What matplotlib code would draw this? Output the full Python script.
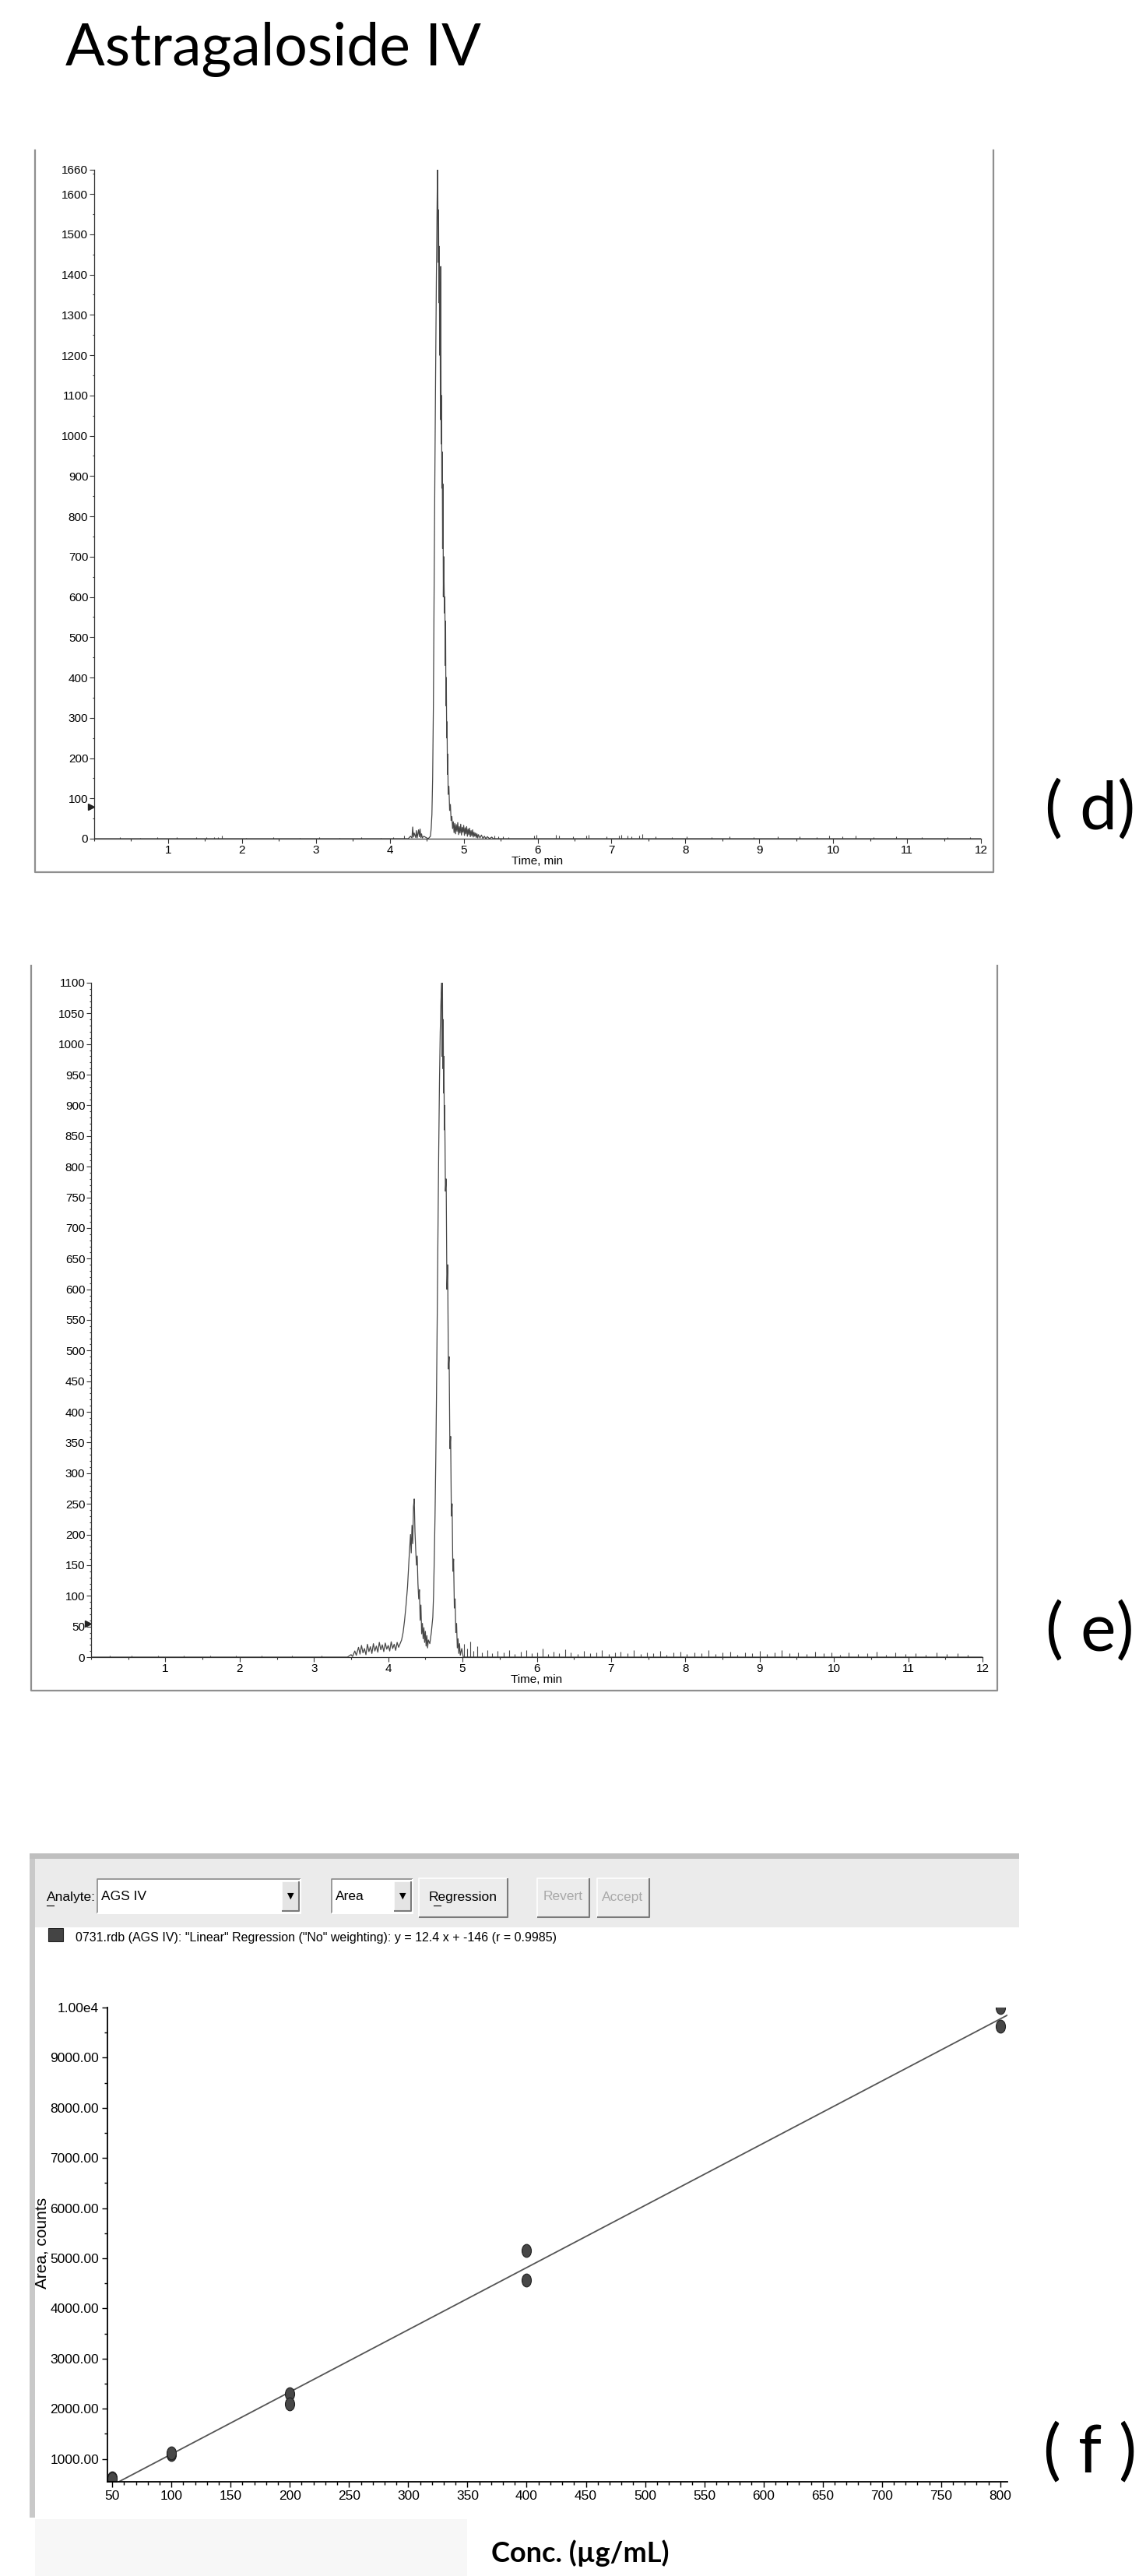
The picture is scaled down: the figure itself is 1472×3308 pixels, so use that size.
import matplotlib
matplotlib.use('Agg')
import matplotlib.pyplot as plt
from matplotlib.patches import Rectangle
from matplotlib.markers import MarkerStyle
from matplotlib.transforms import Affine2D
from matplotlib.ticker import MultipleLocator, FixedLocator, FuncFormatter

plt.rcParams['font.family'] = ['Liberation Sans', 'DejaVu Sans']

# ---- data ----
title = 'Astragaloside IV'
panel_labels = ['( d)', '( e)', '( f )']

# (d) chromatogram, standard: (time min, intensity)
d_trace = [(0.0, 0), (4.25, 0), (4.28, 6), (4.30, 2), (4.31, 29), (4.32, 4), (4.33, 14),
           (4.35, 3), (4.36, 20), (4.37, 2), (4.39, 22), (4.40, 5), (4.41, 24), (4.42, 3),
           (4.43, 12), (4.44, 2), (4.46, 6), (4.52, 0), (4.55, 6), (4.56, 25), (4.57, 60),
           (4.58, 150), (4.59, 330), (4.60, 620), (4.61, 900), (4.62, 1150), (4.63, 1380),
           (4.64, 1570), (4.645, 1660), (4.65, 1600), (4.655, 1430), (4.66, 1560),
           (4.665, 1330), (4.67, 1470), (4.675, 1200), (4.68, 1380), (4.685, 1040),
           (4.69, 1420), (4.695, 980), (4.70, 1100), (4.705, 870), (4.71, 960), (4.715, 720),
           (4.72, 880), (4.725, 600), (4.73, 700), (4.74, 560), (4.745, 600), (4.75, 430),
           (4.755, 540), (4.76, 330), (4.765, 400), (4.77, 250), (4.775, 290), (4.78, 160),
           (4.785, 210), (4.79, 110), (4.80, 130), (4.81, 70), (4.82, 85), (4.83, 45),
           (4.84, 55), (4.85, 25), (4.86, 42), (4.87, 15), (4.88, 38), (4.89, 12), (4.90, 35),
           (4.91, 18), (4.92, 40), (4.93, 10), (4.94, 30), (4.95, 14), (4.96, 36), (4.97, 9),
           (4.98, 28), (4.99, 16), (5.00, 33), (5.01, 8), (5.02, 27), (5.03, 12), (5.04, 30),
           (5.05, 6), (5.06, 24), (5.07, 10), (5.08, 26), (5.09, 5), (5.10, 20), (5.11, 7),
           (5.12, 22), (5.13, 4), (5.14, 16), (5.15, 6), (5.16, 14), (5.17, 3), (5.18, 12),
           (5.19, 2), (5.20, 10), (5.22, 2), (5.24, 9), (5.26, 1), (5.28, 6), (5.30, 0),
           (5.32, 5), (5.35, 0), (5.38, 4), (5.40, 0), (12.0, 0)]
d_spike_t = [0.35, 0.62, 0.85, 1.12, 1.38, 1.52, 1.62, 1.68, 1.73, 2.05, 2.42, 2.78, 3.05,
             3.32, 3.61, 3.88, 4.05, 4.19, 5.42, 5.47, 5.53, 5.60, 5.95, 5.98, 6.25, 6.29,
             6.48, 6.66, 6.69, 6.93, 7.10, 7.13, 7.22, 7.27, 7.38, 7.42, 7.60, 7.82, 8.02,
             8.35, 8.60, 8.92, 9.25, 9.55, 9.78, 9.95, 10.12, 10.30, 10.55, 10.85, 11.20,
             11.55, 11.85]
d_spike_h = [3, 2, 4, 3, 3, 4, 3, 4, 8, 2, 3, 2, 3, 2, 3, 2, 3, 8, 8, 6, 5, 4, 8, 10, 9, 7,
             6, 8, 9, 5, 8, 9, 7, 6, 8, 11, 5, 4, 6, 4, 5, 3, 5, 6, 4, 8, 5, 7, 4, 5, 3, 4, 3]
d_yticks = [0, 100, 200, 300, 400, 500, 600, 700, 800, 900, 1000, 1100, 1200, 1300, 1400,
            1500, 1600, 1660]
d_marker = 80

# (e) chromatogram, sample
e_trace = [(0.0, 0), (3.45, 0), (3.50, 4), (3.52, 1), (3.55, 10), (3.57, 3), (3.60, 16),
           (3.62, 5), (3.64, 19), (3.66, 7), (3.68, 14), (3.70, 4), (3.72, 21), (3.74, 9),
           (3.76, 17), (3.78, 6), (3.80, 22), (3.82, 10), (3.84, 18), (3.86, 8), (3.88, 24),
           (3.90, 12), (3.92, 20), (3.94, 9), (3.96, 23), (3.98, 13), (4.00, 19), (4.02, 10),
           (4.04, 25), (4.06, 14), (4.08, 21), (4.10, 11), (4.12, 24), (4.14, 16), (4.16, 22),
           (4.18, 28), (4.20, 40), (4.22, 60), (4.24, 85), (4.26, 115), (4.28, 160),
           (4.30, 200), (4.31, 170), (4.32, 215), (4.33, 185), (4.34, 245), (4.35, 258),
           (4.36, 205), (4.37, 175), (4.38, 150), (4.39, 165), (4.40, 120), (4.41, 95),
           (4.42, 110), (4.43, 60), (4.44, 85), (4.45, 38), (4.46, 55), (4.47, 30), (4.48, 48),
           (4.49, 24), (4.50, 42), (4.51, 18), (4.52, 35), (4.53, 15), (4.54, 28), (4.56, 22),
           (4.58, 40), (4.60, 65), (4.61, 100), (4.62, 160), (4.63, 230), (4.64, 320),
           (4.65, 430), (4.66, 560), (4.67, 700), (4.68, 830), (4.69, 940), (4.70, 1020),
           (4.71, 1070), (4.72, 1100), (4.725, 980), (4.73, 1100), (4.735, 960), (4.74, 1040),
           (4.745, 920), (4.75, 980), (4.755, 860), (4.76, 900), (4.77, 760), (4.78, 780),
           (4.79, 600), (4.80, 640), (4.81, 470), (4.82, 490), (4.83, 340), (4.84, 360),
           (4.85, 230), (4.86, 250), (4.87, 140), (4.88, 160), (4.89, 80), (4.90, 95),
           (4.91, 40), (4.92, 55), (4.93, 15), (4.94, 30), (4.95, 6), (4.96, 22), (4.97, 3),
           (4.99, 14), (5.01, 0), (12.0, 0)]
e_spike_t = [0.25, 0.55, 0.90, 1.25, 1.60, 1.95, 2.30, 2.70, 3.10, 5.02, 5.06, 5.10, 5.15,
             5.20, 5.26, 5.33, 5.40, 5.47, 5.55, 5.63, 5.70, 5.78, 5.86, 5.93, 6.00, 6.08,
             6.15, 6.23, 6.30, 6.38, 6.46, 6.55, 6.63, 6.72, 6.80, 6.88, 6.97, 7.05, 7.13,
             7.22, 7.30, 7.40, 7.48, 7.57, 7.66, 7.75, 7.84, 7.93, 8.02, 8.12, 8.22, 8.31,
             8.40, 8.50, 8.60, 8.70, 8.80, 8.90, 9.00, 9.10, 9.20, 9.30, 9.40, 9.52, 9.63,
             9.75, 9.86, 9.97, 10.08, 10.20, 10.32, 10.45, 10.57, 10.70, 10.83, 10.96, 11.10,
             11.24, 11.38, 11.52, 11.66, 11.80]
e_spike_h = [3, 2, 3, 2, 3, 2, 3, 2, 3, 22, 14, 25, 10, 18, 8, 12, 6, 10, 7, 11, 5, 9, 12, 6,
             8, 14, 5, 9, 6, 13, 7, 5, 10, 6, 8, 12, 5, 7, 9, 6, 11, 5, 8, 6, 10, 4, 7, 9, 5,
             8, 6, 11, 5, 7, 9, 4, 8, 6, 10, 5, 7, 12, 6, 8, 5, 9, 6, 7, 4, 8, 5, 6, 9, 4, 7,
             5, 6, 4, 8, 5, 6, 4]
e_yticks = list(range(0, 1101, 50))
e_marker = 55

# (f) calibration curve
f_conc = [50, 50, 100, 100, 200, 200, 400, 400, 800, 800]
f_area = [620, 600, 1090, 1110, 2290, 2090, 5150, 4560, 10000, 9620]
f_slope = 12.4
f_intercept = -146
f_legend = '0731.rdb (AGS IV): "Linear" Regression ("No" weighting): y = 12.4 x + -146 (r = 0.9985)'

# ---- figure ----
W, H = 1472, 3308
fig = plt.figure(figsize=(W / 100, H / 100), dpi=100)


def axes_px(left, top, right, bottom):
    return fig.add_axes([left / W, 1 - bottom / H, (right - left) / W, (bottom - top) / H])


deco = fig.add_axes([0, 0, 1, 1])
deco.set_xlim(0, W)
deco.set_ylim(H, 0)
deco.axis('off')

deco.text(84, 84, title, family='Lato', fontsize=54, va='baseline')

# grey frames round the two chromatograms
deco.plot([45, 45, 1276, 1276], [193, 1120, 1120, 193], color='#8f8f8f', lw=1.6)
deco.plot([40, 40, 1281, 1281], [1240, 2171, 2171, 1240], color='#8f8f8f', lw=1.6)


def chromatogram(ax, trace, spike_t, spike_h, yticks, yminor, marker_y):
    t, c = zip(*trace)
    ax.plot(t, c, color='#474747', lw=0.9)
    ax.vlines(spike_t, 0, spike_h, color='#474747', lw=0.8)
    ax.plot([-0.04], [marker_y], marker='>', ms=6, color='#222222', clip_on=False)
    ax.set_xlim(0, 12)
    ax.set_ylim(0, yticks[-1])
    ax.set_xticks(range(1, 13))
    ax.xaxis.set_minor_locator(MultipleLocator(0.5))
    ax.yaxis.set_major_locator(FixedLocator(yticks))
    ax.yaxis.set_minor_locator(MultipleLocator(yminor))
    ax.tick_params(which='major', direction='out', length=4, width=0.8, color='#333333',
                   labelsize=11, pad=1.5)
    ax.tick_params(which='minor', direction='out', length=1.8, width=0.8, color='#333333')
    for s in ['top', 'right']:
        ax.spines[s].set_visible(False)
    for s in ['left', 'bottom']:
        ax.spines[s].set_color('#333333')
        ax.spines[s].set_linewidth(0.9)
    ax.set_xlabel('Time, min', fontsize=11, labelpad=0)
    ax.patch.set_alpha(0)


axd = axes_px(121, 218, 1260, 1077)
chromatogram(axd, d_trace, d_spike_t, d_spike_h, d_yticks, 50, d_marker)
axe = axes_px(117, 1262, 1262, 2128)
chromatogram(axe, e_trace, e_spike_t, e_spike_h, e_yticks, 10, e_marker)

deco.text(1400, 1040, panel_labels[0], family='Lato', fontsize=62, ha='center', va='center')
deco.text(1400, 2095, panel_labels[1], family='Lato', fontsize=62, ha='center', va='center')
deco.text(1400, 3150, panel_labels[2], family='Lato', fontsize=62, ha='center', va='center')

# ---- (f) software window ----
deco.add_patch(Rectangle((38, 2380), 7, 853, facecolor='#c9c9c9', edgecolor='none'))
deco.add_patch(Rectangle((38, 2380), 1271, 7, facecolor='#bfbfbf', edgecolor='none'))
deco.add_patch(Rectangle((45, 2387), 1264, 88, facecolor='#ebebeb', edgecolor='none'))
deco.add_patch(Rectangle((45, 3235), 555, 73, facecolor='#f7f7f7', edgecolor='none'))


def bevel(x0, y0, x1, y1, face, raised=True):
    deco.add_patch(Rectangle((x0, y0), x1 - x0, y1 - y0, facecolor=face, edgecolor='none'))
    light, dark = ('#ffffff', '#7a7a7a') if raised else ('#8a8a8a', '#ffffff')
    deco.plot([x0, x0, x1], [y1, y0, y0], color=light, lw=1.2, solid_capstyle='butt')
    deco.plot([x0, x1, x1], [y1, y1, y0], color=dark, lw=1.5, solid_capstyle='butt')


deco.text(60, 2437, 'Analyte:', fontsize=12.5, va='center')
deco.plot([60, 69], [2447, 2447], color='black', lw=0.8)
bevel(125, 2413, 386, 2457, 'white', raised=False)
deco.text(130, 2436, 'AGS IV', fontsize=12.5, va='center')
bevel(362, 2416, 384, 2454, '#e4e4e4')
deco.text(373, 2435, '▼', family='DejaVu Sans', fontsize=8, ha='center', va='center')
bevel(426, 2413, 530, 2457, 'white', raised=False)
deco.text(431, 2436, 'Area', fontsize=12.5, va='center')
bevel(506, 2416, 528, 2454, '#e4e4e4')
deco.text(517, 2435, '▼', family='DejaVu Sans', fontsize=8, ha='center', va='center')
bevel(538, 2412, 652, 2462, '#ececec')
deco.text(595, 2436, 'Regression', fontsize=12.5, ha='center', va='center')
deco.plot([557, 566], [2447, 2447], color='black', lw=0.8)
bevel(690, 2412, 757, 2462, '#ececec')
deco.text(723, 2436, 'Revert', fontsize=12.5, ha='center', va='center', color='#a8a8a8')
bevel(767, 2412, 834, 2462, '#ececec')
deco.text(800, 2436, 'Accept', fontsize=12.5, ha='center', va='center', color='#a8a8a8')

deco.add_patch(Rectangle((62, 2476), 19, 17, facecolor='#444444', edgecolor='#222222', lw=0.8))
deco.text(97, 2488, f_legend, fontsize=11.5, va='center')

axf = axes_px(138, 2578, 1294, 3187)
axf.axline((0, f_intercept), slope=f_slope, color='#555555', lw=1.3)
dot = MarkerStyle('o', transform=Affine2D().scale(0.72, 1.0))
axf.plot(f_conc, f_area, ls='none', marker=dot, ms=12, mfc='#474747', mec='#1e1e1e', mew=0.8)
axf.set_xlim(46, 806)
axf.set_ylim(543, 10000)
axf.yaxis.set_major_locator(FixedLocator(range(1000, 10001, 1000)))
axf.yaxis.set_minor_locator(MultipleLocator(500))
axf.yaxis.set_major_formatter(FuncFormatter(lambda v, p: '1.00e4' if v >= 10000 else f'{v:.2f}'))
axf.xaxis.set_major_locator(MultipleLocator(50))
axf.xaxis.set_minor_locator(MultipleLocator(10))
axf.tick_params(which='major', direction='out', length=5, width=1, color='black',
                labelsize=12.5, pad=3)
axf.tick_params(which='minor', direction='out', length=3, width=1, color='black')
for s in ['top', 'right']:
    axf.spines[s].set_visible(False)
for s in ['left', 'bottom']:
    axf.spines[s].set_linewidth(1.3)
axf.patch.set_alpha(0)
axf.set_ylabel('Area, counts', fontsize=15)
axf.yaxis.set_label_coords((64 - 138) / 1156, 0.504)
axf.set_xlabel('Conc. (µg/mL)', family='Lato', fontweight='bold', fontsize=26)
axf.xaxis.set_label_coords(0.525, (3187 - 3261) / 609)

fig.savefig('out.png', dpi=100)
